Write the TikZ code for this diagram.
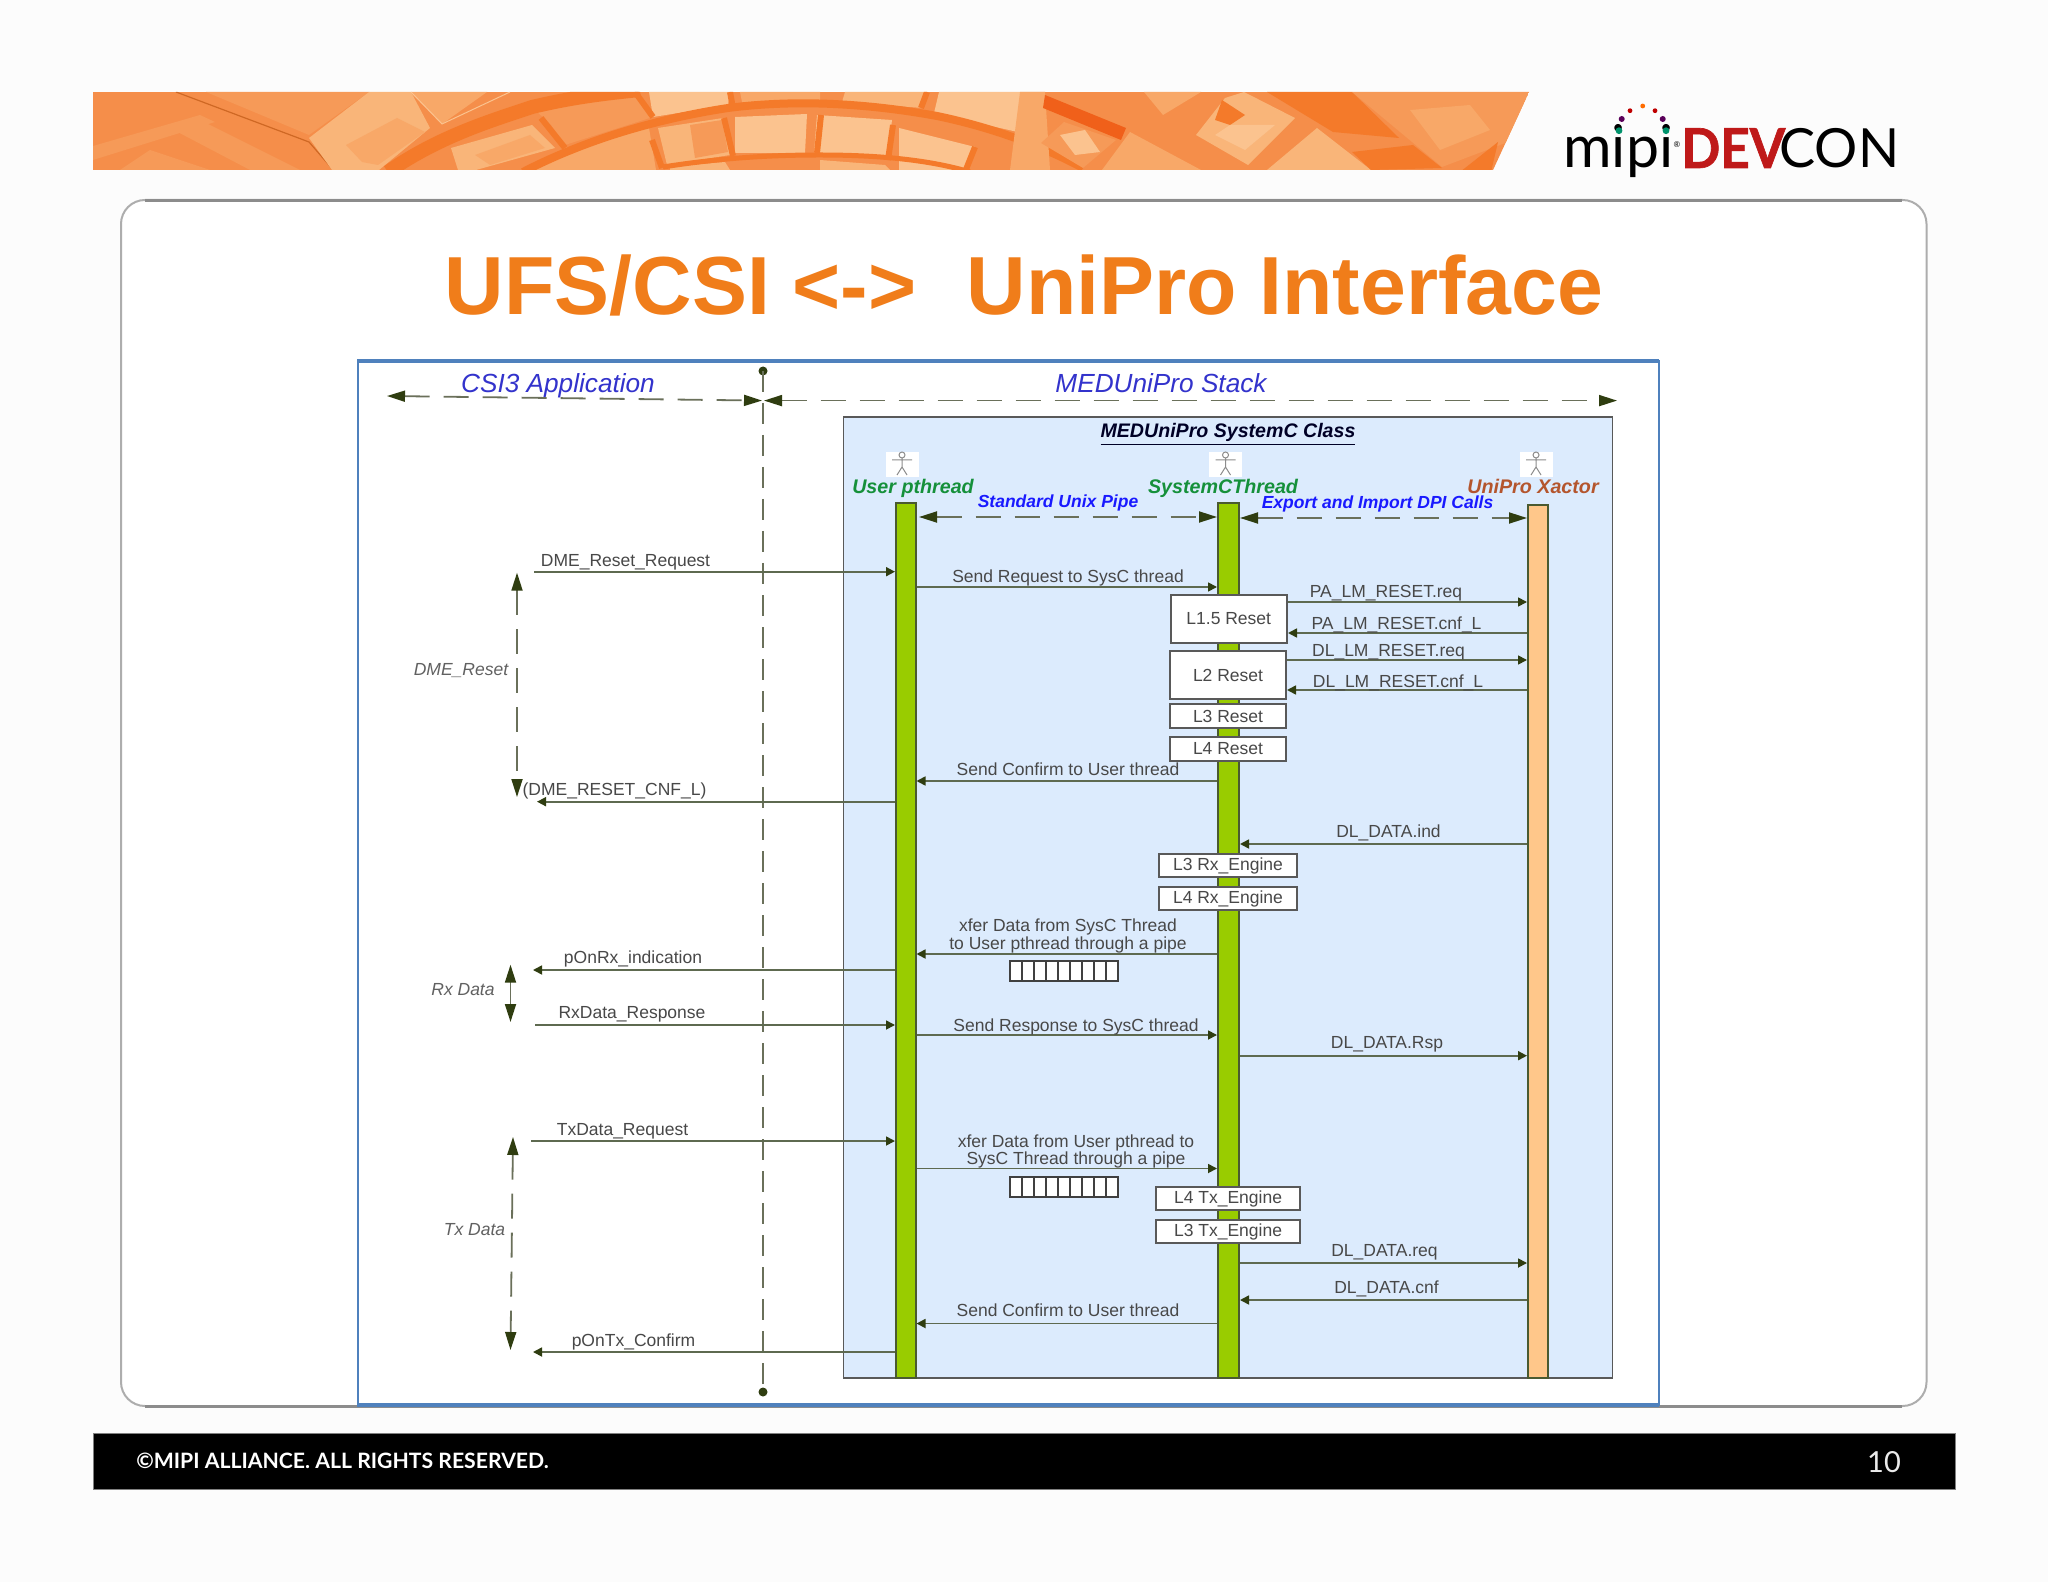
\documentclass[tikz,border=0pt]{standalone}
\usepackage{fontspec}
\setmainfont{Liberation Sans}
\newfontfamily\latofont{Lato}
\newfontfamily\latoheavy[FakeBold=1.2,FakeStretch=.93]{Lato}
\usetikzlibrary{arrows.meta,calc}
\definecolor{tipc}{HTML}{2F3D10}
\definecolor{linec}{HTML}{5E6A50}
\definecolor{dashc}{HTML}{6A705A}
\definecolor{labc}{HTML}{484848}
\definecolor{titlec}{HTML}{F07D1A}
\definecolor{framec}{HTML}{4F81BD}
\definecolor{stackc}{HTML}{DCEBFD}
\definecolor{greenL}{HTML}{99CC00}
\definecolor{orangeL}{HTML}{FFC78A}
\definecolor{lifeB}{HTML}{4A5A30}
\definecolor{bandD}{HTML}{F47A2A}
\definecolor{tA}{HTML}{F9B579}
\definecolor{tB}{HTML}{FBC38F}
\definecolor{tC}{HTML}{F8A868}
\definecolor{tD}{HTML}{F69A58}
\definecolor{base}{HTML}{F58E4A}
\definecolor{hot}{HTML}{F0601A}
\definecolor{actgreen}{HTML}{15903A}
\definecolor{actbrown}{HTML}{B4552D}
\newcommand{\bfill}[2]{\fill[fill=#1] #2;}
\tikzset{
  lab/.style={inner sep=0pt,anchor=base,text=labc,font=\fontsize{8.75}{8.75}\selectfont},
  itlab/.style={lab,text=black!62,font=\fontsize{8.75}{8.75}\selectfont\itshape},
  head/.style={inner sep=0pt,anchor=base,font=\fontsize{13.1}{13.1}\selectfont\itshape,text=blue!75!black!80!white},
  actor/.style={inner sep=0pt,anchor=base,font=\fontsize{9.85}{9.85}\selectfont\bfseries\itshape},
  pipelab/.style={actor,text=blue!90!white,font=\fontsize{8.75}{8.75}\selectfont\bfseries\itshape},
  life/.style={draw=lifeB,line width=1pt,inner sep=0pt},
  layerbox/.style={draw=black!65,line width=1pt,fill=white,inner sep=0pt,text=labc,font=\fontsize{8.75}{8.75}\selectfont,minimum height=12pt},
  pipecell/.style={draw=black!75,line width=.8pt,fill=white,inner sep=0pt,minimum width=6pt,minimum height=10pt},
  sigline/.style={draw=linec,line width=.85pt,-{Triangle[length=4.5pt,width=4.5pt,color=tipc]}},
  bigdash/.style={draw=dashc,line width=.9pt,dash pattern=on 12.5pt off 7pt,{Triangle[length=9pt,width=5.5pt,color=tipc]}-{Triangle[length=9pt,width=5.5pt,color=tipc]}},
  actorbox/.style={fill=white,inner sep=0pt,minimum width=16.5pt,minimum height=12.5pt},
  stick/.style={draw=black!45,line width=.5pt},
}
% signal between two named anchors at height #3
\newcommand{\sig}[3]{\draw[sigline] (#1 |- 0,#3) -- (#2 |- 0,#3);}
\newcommand{\lbl}[4]{\node[lab] (#1) at (#2,#3) {#4};}
\newcommand{\stickman}[2]{%
  \node[actorbox] (#1) at (#2,464.5) {};
  \draw[stick] (#2,455) circle[radius=3];
  \draw[stick] (#2,458) -- (#2,467) (#2-5,475) -- (#2,467) -- (#2+5,475) (#2-10,460) -- (#2+10,460);
}
\begin{document}
\begin{tikzpicture}[x=.5pt,y=-.5pt]
\useasboundingbox (0,0) rectangle (2048,1582);
\fill[fill=white!99!black] (0,0) rectangle (2048,1582);

% ---------- banner
\begin{scope}
\clip (93,92) -- (1529,92) -- (1493,170) -- (93,170) -- cycle;
\fill[fill=base] (93,92) rectangle (1529,170);
\bfill{tD}{(93,146) -- (200,115) -- (215,122) -- (93,160) -- cycle}
\bfill{tD}{(170,128) -- (200,120) -- (300,170) -- (250,170) -- cycle}
\bfill{tD}{(120,170) -- (150,150) -- (210,170) -- cycle}
\bfill{tD}{(206,92) -- (369,92) -- (309,135) -- cycle}
\draw[draw=bandD!85!black,line width=.6pt] (176,92) -- (309,142) -- (335,172);
\bfill{tA}{(369,92) -- (411,92) -- (430,128) -- (379,170) -- (332,170) -- (309,138) -- cycle}
\bfill{tC}{(346,145) -- (397,118) -- (425,132) -- (378,165) -- (362,162) -- cycle}
\bfill{tC}{(411,92) -- (487,92) -- (442,124) -- cycle}
\draw[draw=tB,line width=.5pt] (411,92) -- (442,124) -- (510,92);
\bfill{tD}{(532,107) -- (635,92) -- (653,117) -- (565,145) -- (551,125) -- cycle}
\bfill{tA}{(451,148) -- (532,125) -- (555,148) -- (476,170) -- (458,170) -- cycle}
\bfill{tC}{(475,155) -- (530,135) -- (545,148) -- (490,165) -- cycle}
\bfill{tB}{(649,92) -- (730,92) -- (728,105) -- (653,117) -- cycle}
\bfill{tC}{(528,170) -- (565,148) -- (649,128) -- (656,170) -- cycle}
\bfill{tA}{(658,128) -- (723,118) -- (730,155) -- (667,165) -- cycle}
\bfill{tD}{(690,125) -- (722,120) -- (728,152) -- (695,158) -- cycle}
\bfill{tB}{(735,117) -- (807,114) -- (805,153) -- (735,153) -- cycle}
\bfill{tC}{(740,92) -- (820,92) -- (820,100) -- (742,102) -- cycle}
\bfill{tA}{(845,92) -- (927,92) -- (923,108) -- (842,102) -- cycle}
\bfill{tB}{(939,92) -- (1045,92) -- (1022,133) -- (934,113) -- cycle}
\bfill{tB}{(817,115) -- (892,120) -- (887,158) -- (814,153) -- cycle}
\bfill{tB}{(899,128) -- (975,147) -- (965,170) -- (899,170) -- cycle}
\bfill{tA}{(670,167) -- (725,162) -- (730,170) -- (670,170) -- cycle}
\bfill{tA}{(820,160) -- (885,165) -- (890,170) -- (820,170) -- cycle}
% arches
\draw[draw=bandD,line width=4pt] (523,172) .. controls (579,143) and (649,120) .. (728,108) .. controls (790,100) and (860,102) .. (937,116) .. controls (990,127) and (1040,145) .. (1083,168);
\draw[draw=bandD,line width=2.5pt] (663,167) .. controls (720,158) and (770,155) .. (820,155) .. controls (880,155) and (930,160) .. (970,172);
\draw[draw=bandD,line width=7pt] (388,172) .. controls (440,135) and (500,118) .. (532,107) .. controls (570,98) and (600,94) .. (640,90);
\draw[draw=bandD,line width=3pt] (635,92) -- (653,117) (541,118) -- (565,148) (730,92) -- (733,108) (724,118) -- (733,156) (652,140) -- (662,168) (927,92) -- (921,108) (893,125) -- (888,160) (821,115) -- (817,153) (975,147) -- (965,172);
% right half
\bfill{tC}{(1020,92) -- (1045,92) -- (1050,170) -- (1010,170) -- cycle}
\bfill{tD}{(1041,143) -- (1064,122) -- (1116,140) -- (1083,168) -- cycle}
\bfill{tB}{(1060,135) -- (1085,130) -- (1100,152) -- (1075,155) -- cycle}
\bfill{hot}{(1045,95) -- (1126,128) -- (1121,140) -- (1043,108) -- cycle}
\bfill{tC}{(1130,132) -- (1201,170) -- (1102,170) -- cycle}
\bfill{tC}{(1144,92) -- (1201,92) -- (1163,115) -- cycle}
\bfill{tA}{(1244,92) -- (1295,118) -- (1248,165) -- (1196,135) -- (1225,98) -- cycle}
\bfill{bandD}{(1222,100) -- (1245,115) -- (1230,125) -- (1215,120) -- cycle}
\bfill{tB}{(1230,125) -- (1275,125) -- (1245,150) -- (1215,135) -- cycle}
\bfill{tA}{(1317,128) -- (1371,170) -- (1267,170) -- cycle}
\bfill{bandD}{(1267,92) -- (1352,92) -- (1399,138) -- (1333,132) -- cycle}
\bfill{tD}{(1352,92) -- (1529,92) -- (1508,142) -- (1442,167) -- cycle}
\bfill{tC}{(1410,110) -- (1470,105) -- (1490,130) -- (1440,150) -- cycle}
\bfill{bandD}{(1352,152) -- (1413,145) -- (1442,168) -- (1371,170) -- cycle}
\bfill{bandD}{(1498,142) -- (1491,172) -- (1460,172) -- cycle}
\end{scope}

% ---------- logo
\node[inner sep=0pt,anchor=base west,font=\latofont\fontsize{29.5}{29.5}\selectfont] (logomipi) at (1563,168) {mipi};
\node[inner sep=0pt,font=\latofont\fontsize{4}{4}\selectfont] (logoreg) at (1677,145) {®};
\node[inner sep=0pt,anchor=base west,font=\latoheavy\bfseries\fontsize{27.5}{27.5}\selectfont,text=red!72!black!90!white] (logodev) at (1681,168) {DEV};
\node[inner sep=0pt,anchor=base west,font=\latofont\fontsize{27}{27}\selectfont] (logocon) at (1779,168) {CON};
\fill[fill=orange!85!red] (1642.7,106) circle[radius=2.4];
\fill[fill=red!75!black] (1630,110.7) circle[radius=2.4] (1655,110.7) circle[radius=2.4];
\fill[fill=blue!50!red!70!black] (1621.7,119) circle[radius=3] (1662.7,119) circle[radius=3];
\fill[fill=teal!85!green] (1619,130.7) circle[radius=3.4] (1666,130.7) circle[radius=3.4];

% ---------- slide panel
\draw[draw=black!32,line width=1pt,fill=white,rounded corners=12pt] (121,200) rectangle (1926.5,1406);
\draw[draw=black!45,line width=1.5pt] (145,201) -- (1902,201) (145,1406) -- (1902,1406);

\node[inner sep=0pt,anchor=base,text=titlec,font=\bfseries\fontsize{41.2}{41.2}\selectfont] (title) at (1024,315) {UFS/CSI <->\hspace{25pt}UniPro Interface};

% ---------- footer
\node[fill=black,draw=black!50,line width=.5pt,inner sep=0pt,minimum width=931pt,minimum height=28pt] (footer) at (1024,1461) {};
\node[inner sep=0pt,anchor=base west,text=white,font=\latofont\bfseries\fontsize{10.6}{10.6}\selectfont] (copyright) at (136,1468) {©MIPI ALLIANCE. ALL RIGHTS RESERVED.};
\node[inner sep=0pt,anchor=base,text=black!8,font=\latofont\fontsize{14.5}{14.5}\selectfont] (pageno) at (1884,1472) {10};

% ---------- figure frame
\draw[draw=framec,line width=1pt,fill=white] (358,361) rectangle (1658.5,1405);
\draw[draw=framec,line width=1.6pt] (357,361) -- (1659,361) (357,1405) -- (1659,1405);
\node[draw=black!65,line width=.8pt,fill=stackc,inner sep=0pt,minimum width=384.5pt,minimum height=480.6pt] (stack) at (1228,897.4) {};

% ---------- headers
\node[head] (csihead) at (558,392.5) {CSI3 Application};
\node[head] (medhead) at (1161,392.5) {MEDUniPro Stack};
\node[inner sep=0pt,anchor=base,text=black!85!blue,font=\fontsize{9.8}{9.8}\selectfont\bfseries\itshape] (classhead) at (1228,438) {\underline{MEDUniPro SystemC Class}};
\stickman{actuser}{902}
\stickman{actsys}{1225.5}
\stickman{actxac}{1536}
\node[actor,text=actgreen] (userhead) at (913,493.3) {User pthread};
\node[actor,text=actgreen] (syshead) at (1223,493.3) {SystemCThread};
\node[actor,text=actbrown] (xachead) at (1533,493.3) {UniPro Xactor};
\node[pipelab] (pipehead) at (1058,507.3) {Standard Unix Pipe};
\node[pipelab] (dpihead) at (1377.5,508.3) {Export and Import DPI Calls};

% ---------- lifelines
\node[life,fill=greenL,minimum width=9.75pt,minimum height=437.5pt] (userL) at (905.75,940.5) {};
\node[life,fill=greenL,minimum width=10.5pt,minimum height=437.5pt] (sysL) at (1228.5,940.5) {};
\node[life,fill=orangeL,minimum width=10pt,minimum height=436.5pt] (xacL) at (1538,941.5) {};

% ---------- divider and spans
\coordinate (divtop) at (763,371);
\coordinate (divbot) at (763,1392);
\fill[fill=tipc] (divtop) circle[radius=4.5];
\fill[fill=tipc] (divbot) circle[radius=4.5];
\draw[draw=dashc,line width=.8pt,dash pattern=on 10.5pt off 5.5pt] (divtop) -- (divbot);
\coordinate (csiL) at (387,396);
\coordinate (csiR) at (762,400.6);
\coordinate (medL) at (764,400.6);
\coordinate (medR) at (1617,400.6);
\draw[bigdash] (csiL) -- (csiR);
\draw[bigdash] (medL) -- (medR);
\coordinate (pipeL) at (919,517);
\draw[bigdash] (pipeL) -- (sysL.west |- pipeL);
\draw[bigdash] (sysL.east |- 0,518) -- (xacL.west |- 0,518);
\coordinate (dmeT) at (517,572.7);
\coordinate (dmeB) at (517,797);
\draw[bigdash] (dmeT) -- (dmeB);
\coordinate (rxT) at (510.5,964.7);
\coordinate (rxB) at (510.5,1022);
\draw[bigdash] (rxT) -- (rxB);
\coordinate (txT) at (513,1137);
\coordinate (txB) at (510.5,1350);
\draw[bigdash] (txT) -- (txB);
\node[itlab] (dmelab) at (461,675) {DME\_Reset};
\node[itlab] (rxlab) at (463,995) {Rx Data};
\node[itlab] (txlab) at (474.5,1235) {Tx Data};

% ---------- layer boxes
\node[layerbox,minimum width=58.25pt,minimum height=24pt] (l15) at (1228.75,619) {L1.5 Reset};
\node[layerbox,minimum width=58pt,minimum height=24pt] (l2) at (1228,675) {L2 Reset};
\node[layerbox,minimum width=58pt] (l3) at (1228,716) {L3 Reset};
\node[layerbox,minimum width=58pt] (l4) at (1228,749) {L4 Reset};
\node[layerbox,minimum width=69pt,minimum height=11.5pt] (l3rx) at (1228,865.5) {L3 Rx\_Engine};
\node[layerbox,minimum width=69pt,minimum height=11.5pt] (l4rx) at (1228,898.5) {L4 Rx\_Engine};
\node[layerbox,minimum width=72pt,minimum height=11.5pt] (l4tx) at (1228,1198.5) {L4 Tx\_Engine};
\node[layerbox,minimum width=72pt,minimum height=11.5pt] (l3tx) at (1228,1231.5) {L3 Tx\_Engine};

% ---------- pipes
\foreach \i in {0,...,8} {
  \node[pipecell] (pipeA\i) at ({1016+12*\i},971) {};
  \node[pipecell] (pipeB\i) at ({1016+12*\i},1187) {};
}

% ---------- signals
\coordinate (fDMEreq) at (534,571.7);
\sig{fDMEreq}{userL.west}{571.7}
\lbl{tDMEreq}{625.5}{567}{DME\_Reset\_Request}
\sig{userL.east}{sysL.west}{587}
\lbl{tsendreq}{1068}{582}{Send Request to SysC thread}
\sig{l15.east}{xacL.west}{602}
\lbl{tpareq}{1386}{597}{PA\_LM\_RESET.req}
\sig{xacL.west}{l15.east}{633}
\lbl{tpacnf}{1396.5}{629}{PA\_LM\_RESET.cnf\_L}
\sig{l2.east}{xacL.west}{660}
\lbl{tdlreq}{1388.5}{656.5}{DL\_LM\_RESET.req}
\sig{xacL.west}{l2.east}{690}
\lbl{tdlcnf}{1398}{687}{DL\_LM\_RESET.cnf\_L}
\sig{sysL.west}{userL.east}{781}
\lbl{tconf1}{1068}{775}{Send Confirm to User thread}
\coordinate (fDMEcnf) at (537,801.7);
\sig{userL.west}{fDMEcnf}{801.7}
\lbl{tDMEcnf}{614.5}{795}{(DME\_RESET\_CNF\_L)}
\sig{xacL.west}{sysL.east}{844}
\lbl{tdlind}{1388.5}{837}{DL\_DATA.ind}
\node[lab,anchor=center,align=center] (txfer1) at (1068,936) {xfer Data from SysC Thread\\[-.1pt]to User pthread through a pipe};
\sig{sysL.west}{userL.east}{954}
\coordinate (fRxind) at (533,970);
\sig{userL.west}{fRxind}{970}
\lbl{trxind}{633}{963}{pOnRx\_indication}
\coordinate (fRxrsp) at (535,1025);
\sig{fRxrsp}{userL.west}{1025}
\lbl{trxrsp}{632}{1018.7}{RxData\_Response}
\sig{userL.east}{sysL.west}{1035}
\lbl{tsendrsp}{1076}{1031}{Send Response to SysC thread}
\sig{sysL.east}{xacL.west}{1055.7}
\lbl{tdlrsp}{1387}{1048}{DL\_DATA.Rsp}
\coordinate (fTxreq) at (531,1141);
\sig{fTxreq}{userL.west}{1141}
\lbl{ttxreq}{622.5}{1135}{TxData\_Request}
\node[lab,anchor=center,align=center] (txfer2) at (1076,1151.5) {xfer Data from User pthread to\\[-.1pt]SysC Thread through a pipe};
\sig{userL.east}{sysL.west}{1168.5}
\sig{sysL.east}{xacL.west}{1263}
\lbl{tdlreqd}{1384.5}{1256}{DL\_DATA.req}
\sig{xacL.west}{sysL.east}{1300}
\lbl{tdlcnfd}{1386.5}{1293}{DL\_DATA.cnf}
\sig{sysL.west}{userL.east}{1323.5}
\lbl{tconf2}{1068}{1316.5}{Send Confirm to User thread}
\coordinate (fTxcnf) at (533,1352);
\sig{userL.west}{fTxcnf}{1352}
\lbl{ttxcnf}{633.5}{1346}{pOnTx\_Confirm}
\end{tikzpicture}
\end{document}
